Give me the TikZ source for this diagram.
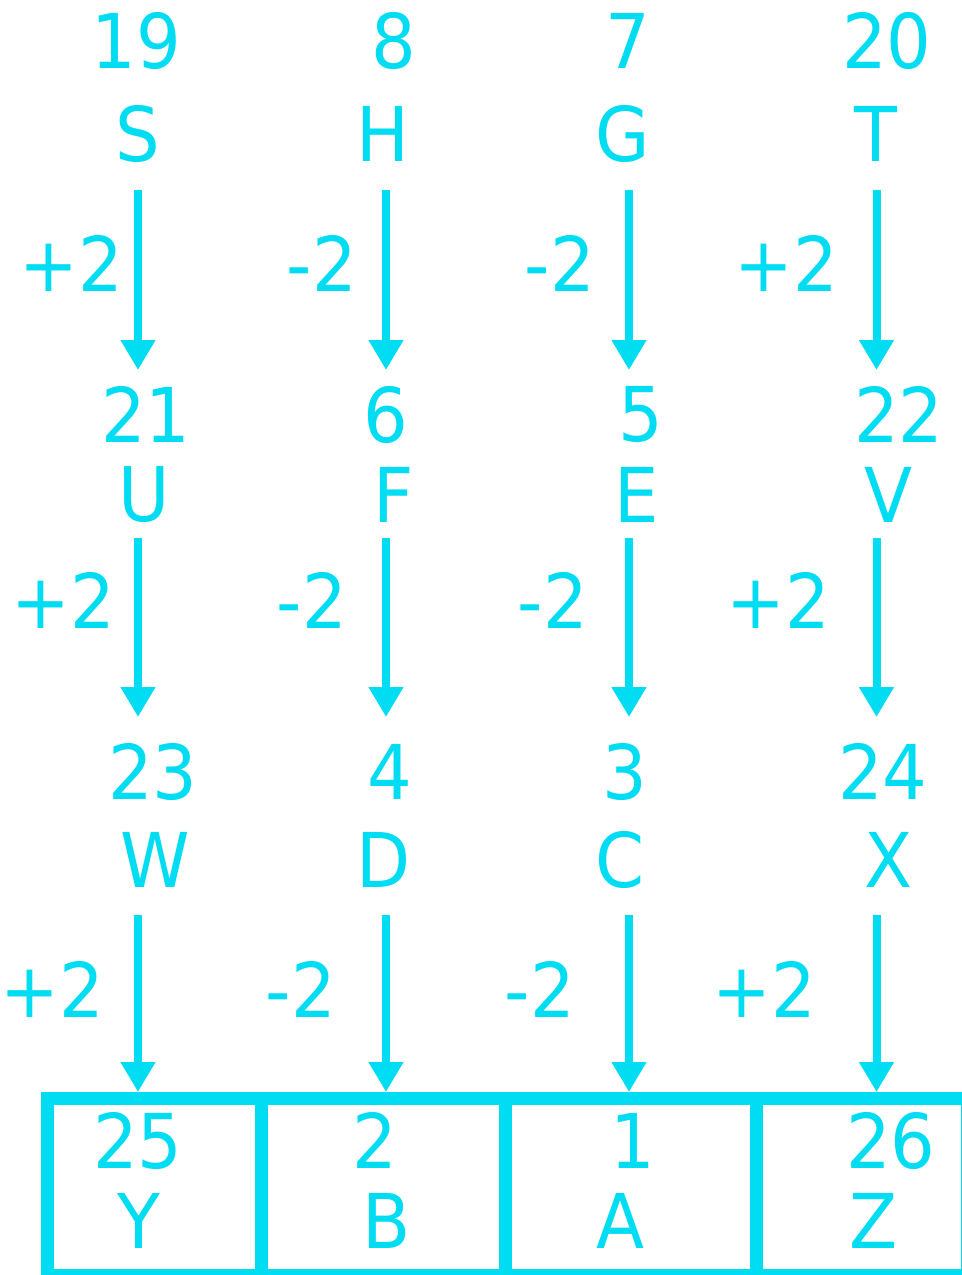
\documentclass[tikz,border=0pt]{standalone}
\usepackage{fontspec}
\setmainfont[FakeStretch=0.93]{DejaVu Sans}
\usetikzlibrary{arrows.meta}
\definecolor{aqua}{HTML}{00DCF2}

\begin{document}
\begin{tikzpicture}[x=0.02cm,y=-0.02cm,>={Triangle[width=0.66cm,length=0.6cm]},
    every node/.style={text=aqua,inner sep=0pt,font=\fontsize{43}{43}\selectfont},
    steparrow/.style={->,color=aqua,line width=0.16cm}]
    \useasboundingbox (0,0) rectangle (962,1275);
    \clip (0,0) rectangle (962,1275);
    % numbers and letters, row by row
    \foreach \x/\y/\lab in {136.5/41/19,394/41/8,628/41/7,887/41/20,
        146/414.5/21,385.5/414.5/6,640.5/414.5/5,899/414.5/22,
        153/771.5/23,389.5/771.5/4,625/771.5/3,883/771.5/24,
        138/1140.5/25,375/1140.5/2,632.5/1140.5/1,891/1140.5/26}
      \node (n\lab) at (\x,\y) {\lab};
    \foreach \x/\y/\lab in {138/133.5/S,383/133.5/H,622.5/133.5/G,876/133.5/T,
        144.5/494.5/U,394/494.5/F,637/494.5/E,889/494.5/V,
        155.5/859.5/W,384/859.5/D,620/859.5/C,889/859.5/X,
        138.5/1220.5/Y,387/1220.5/B,621/1220.5/A,873.5/1220.5/Z}
      \node (\lab) at (\x,\y) {\lab};
    % shift labels
    \foreach \x/\y/\name/\lab in {71/263/s11/+2,322/263/s12/-2,560/263/s13/-2,786/263/s14/+2,
        63/600/s21/+2,312/600/s22/-2,553/600/s23/-2,778/600/s24/+2,
        52/989.5/s31/+2,301/989.5/s32/-2,540/989.5/s33/-2,764/989.5/s34/+2}
      \node (\name) at (\x,\y) {\lab};
    % arrows
    \foreach \c/\x in {1/138,2/386,3/629,4/876.5}{
      \coordinate (a\c1) at (\x,190);  \coordinate (b\c1) at (\x,370);
      \coordinate (a\c2) at (\x,538);  \coordinate (b\c2) at (\x,717);
      \coordinate (a\c3) at (\x,915);  \coordinate (b\c3) at (\x,1092);
      \draw[steparrow] (a\c1) -- (b\c1);
      \draw[steparrow] (a\c2) -- (b\c2);
      \draw[steparrow] (a\c3) -- (b\c3);}
    % answer box
    \draw[aqua,line width=0.26cm] (47.5,1098.5) rectangle (967,1275.5);
    \foreach \x in {261.5,505,756.5}
      \draw[aqua,line width=0.26cm] (\x,1098.5) -- (\x,1275.5);
  \end{tikzpicture}
\end{document}
